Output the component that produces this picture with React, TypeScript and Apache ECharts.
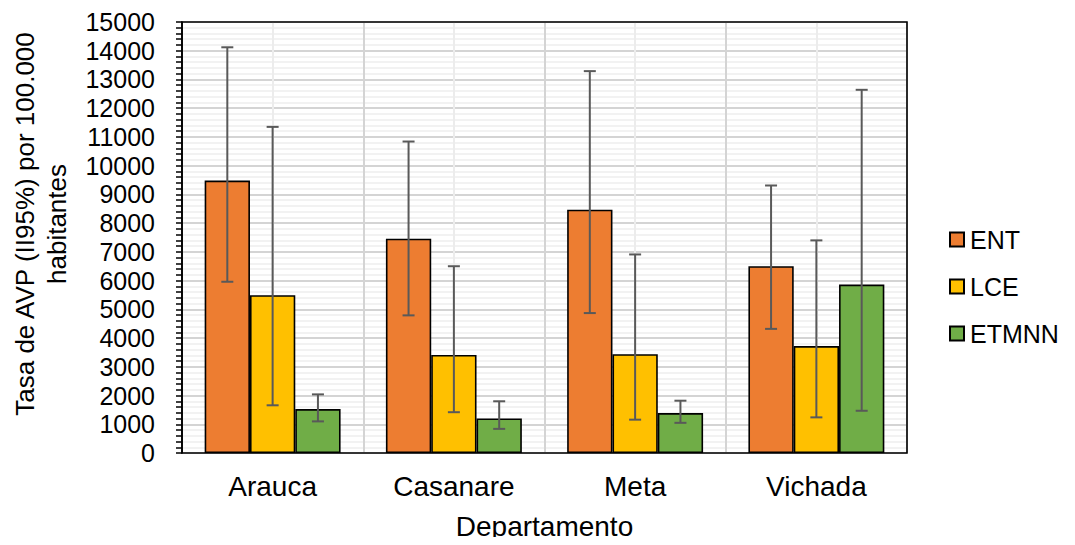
import React, { useEffect, useRef } from "react";
import * as echarts from "echarts";

// Departments on the x axis
const departamentos = ["Arauca", "Casanare", "Meta", "Vichada"];
const seriesNames = ["ENT", "LCE", "ETMNN"];
const seriesColors = ["#ED7D31", "#FFC000", "#70AD47"];

// AVP rate per 100.000 inhabitants
const ent = [9480, 7460, 8470, 6500];
const lce = [5490, 3410, 3440, 3720];
const etmnn = [1530, 1200, 1390, 5860];

// 95% interval bounds
const entLow = [5960, 4790, 4870, 4320];
const entHigh = [14120, 10840, 13290, 9310];
const lceLow = [1660, 1420, 1160, 1240];
const lceHigh = [11350, 6500, 6910, 7400];
const etmnnLow = [1100, 840, 1050, 1470];
const etmnnHigh = [2040, 1800, 1820, 12640];

// y axis: min, max, step
const yTicks = [0, 15000, 1000];

const FONT = "'Liberation Sans', Arial, sans-serif";

export default function App() {
  const ref = useRef<HTMLDivElement>(null);

  useEffect(() => {
    if (!ref.current) return;
    const chart = echarts.init(ref.current, undefined, { renderer: "svg" });

    const values = [ent, lce, etmnn];
    const lows = [entLow, lceLow, etmnnLow];
    const highs = [entHigh, lceHigh, etmnnHigh];
    const gapRatio = 0.25;

    const barSeries = seriesNames.map((name, i) => ({
      name,
      type: "bar",
      data: values[i],
      barGap: "0%",
      barCategoryGap: "25%",
      itemStyle: { color: seriesColors[i], borderColor: "#000", borderWidth: 1.6 },
      z: 2,
    }));

    const errorSeries = seriesNames.map((name, i) => ({
      name: name + "-ic",
      type: "custom",
      xAxisIndex: 0,
      yAxisIndex: 0,
      z: 5,
      data: departamentos.map((_, c) => [c, lows[i][c], highs[i][c]]),
      encode: { x: 0, y: [1, 2] },
      renderItem: (params: any, api: any) => {
        const c = api.value(0);
        const lowP = api.coord([c, api.value(1)]);
        const highP = api.coord([c, api.value(2)]);
        const catW = api.size([1, 0])[0];
        const barW = (catW * (1 - gapRatio)) / 3;
        const x = lowP[0] + (i - 1) * barW;
        const cap = 6;
        const style = { stroke: "#595959", lineWidth: 2 };
        return {
          type: "group",
          children: [
            { type: "line", shape: { x1: x, y1: lowP[1], x2: x, y2: highP[1] }, style },
            { type: "line", shape: { x1: x - cap, y1: highP[1], x2: x + cap, y2: highP[1] }, style },
            { type: "line", shape: { x1: x - cap, y1: lowP[1], x2: x + cap, y2: lowP[1] }, style },
          ],
        };
      },
    }));

    chart.setOption({
      animation: false,
      textStyle: { fontFamily: FONT },
      grid: {
        left: 182,
        top: 22,
        width: 725,
        height: 435,
        show: true,
        borderColor: "#000",
        borderWidth: 1.6,
        z: 10,
      },
      legend: {
        data: seriesNames,
        orient: "vertical",
        left: 944,
        top: 222,
        padding: 5,
        itemWidth: 14,
        itemHeight: 14,
        itemGap: 22,
        icon: "rect",
        textStyle: { fontFamily: FONT, fontSize: 25, color: "#000", padding: [0, 0, 0, 1] },
      },
      xAxis: [
        {
          type: "category",
          data: departamentos,
          axisLine: { show: false },
          axisTick: { show: false },
          splitLine: { show: false },
          axisLabel: { fontFamily: FONT, fontSize: 28, color: "#000", margin: 19 },
          name: "Departamento",
          nameLocation: "middle",
          nameGap: 59,
          nameTextStyle: { fontFamily: FONT, fontSize: 28, color: "#000" },
        },
        {
          // vertical gridlines: category borders and category centres
          type: "value",
          min: 0,
          max: 8,
          interval: 1,
          show: true,
          position: "bottom",
          axisLine: { show: false },
          axisTick: { show: false },
          axisLabel: { show: false },
          splitLine: { show: true, lineStyle: { color: ["#d4d4d4", "#ececec"], width: 2 } },
        },
      ],
      yAxis: {
        type: "value",
        min: yTicks[0],
        max: yTicks[1],
        interval: yTicks[2],
        axisLine: { show: true, lineStyle: { color: "#000", width: 1.6 } },
        axisTick: { show: true, length: 6, lineStyle: { color: "#000", width: 1.5 } },
        minorTick: { show: true, splitNumber: 5, length: 6, lineStyle: { color: "#000", width: 1.5 } },
        splitLine: { show: true, lineStyle: { color: "#d4d4d4", width: 2 } },
        minorSplitLine: { show: true, lineStyle: { color: "#eeeeee", width: 1.5 } },
        axisLabel: {
          fontFamily: FONT,
          fontSize: 25,
          color: "#000",
          margin: 27,
          formatter: (v: number) => String(v),
        },
      },
      graphic: [
        {
          type: "text",
          x: 41,
          y: 224,
          rotation: Math.PI / 2,
          style: {
            text: "Tasa de AVP (II95%) por 100.000\nhabitantes",
            fontFamily: FONT,
            fontSize: 26,
            fill: "#000",
            align: "center",
            verticalAlign: "middle",
            lineHeight: 32,
          },
        },
      ],
      series: [...barSeries, ...errorSeries],
    });

    return () => chart.dispose();
  }, []);

  return <div ref={ref} style={{ width: 1075, height: 545, margin: -8 }} />;
}
